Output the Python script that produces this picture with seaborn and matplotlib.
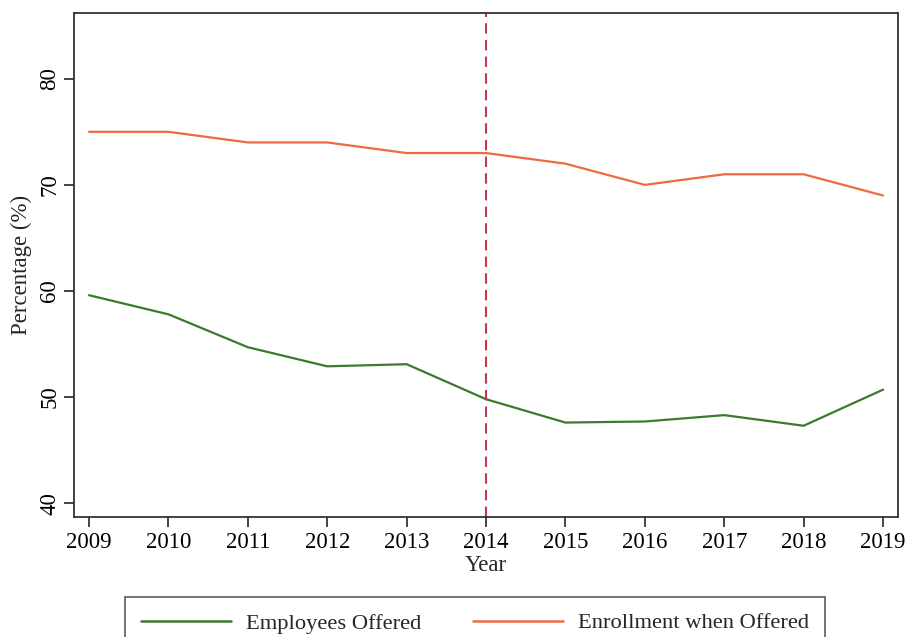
import matplotlib
matplotlib.use("Agg")
import matplotlib.pyplot as plt
import seaborn as sns
import pandas as pd
from matplotlib.lines import Line2D

years = [2009, 2010, 2011, 2012, 2013, 2014, 2015, 2016, 2017, 2018, 2019]
employees_offered = [59.6, 57.8, 54.7, 52.9, 53.1, 49.8, 47.6, 47.7, 48.3, 47.3, 50.7]
enrollment_offered = [75, 75, 74, 74, 73, 73, 72, 70, 71, 71, 69]
series_names = ["Employees Offered", "Enrollment when Offered"]
policy_year = 2014

sns.set_theme(style="ticks")
plt.rcParams['font.family'] = ['Liberation Serif', 'DejaVu Serif']

df = pd.DataFrame({
    "Year": years * 2,
    "Value": employees_offered + enrollment_offered,
    "Series": [series_names[0]] * len(years) + [series_names[1]] * len(years),
})

fig = plt.figure(figsize=(9.09, 6.37), dpi=100)
ax = fig.add_axes([0.0814, 0.1884, 0.9066, 0.7912])

palette = {series_names[0]: "#3b7a2e", series_names[1]: "#ee6a3f"}
sns.lineplot(data=df, x="Year", y="Value", hue="Series", palette=palette,
             linewidth=1.6, ax=ax, legend=False)
ax.axvline(policy_year, color="#c8374a", linestyle=(0, (5, 3)), linewidth=1.5)

ax.set_xlim(2008.81, 2019.19)
ax.set_ylim(38.7, 86.2)
ax.set_xticks(years)
ax.set_xticklabels([str(y) for y in years])
ax.set_yticks([40, 50, 60, 70, 80])
ax.set_yticklabels(["40", "50", "60", "70", "80"], rotation=90, va="center")
ax.tick_params(axis="both", labelsize=16.5, length=7, width=1.2, colors="#222222",
               labelcolor="black", direction="out")
ax.tick_params(axis="x", pad=4)
ax.tick_params(axis="y", pad=3)
ax.set_xlabel("Year", fontsize=16.5, labelpad=1)
ax.set_ylabel("Percentage (%)", fontsize=16.5, labelpad=5)
for s in ax.spines.values():
    s.set_linewidth(1.3)
    s.set_color("#333333")
    s.set_visible(True)

handles = [Line2D([0], [0], color=palette[n], lw=1.8) for n in series_names]
leg = fig.legend(handles, series_names, loc="upper center",
                 bbox_to_anchor=(0.5226, 1 - 597 / 637), ncol=2, fontsize=16.2,
                 frameon=True, fancybox=False, edgecolor="#444444",
                 handlelength=4.0, columnspacing=2.3, borderpad=0.7,
                 handletextpad=0.68, borderaxespad=0)
leg.get_frame().set_linewidth(1.3)

fig.savefig("out.png", dpi=100)
